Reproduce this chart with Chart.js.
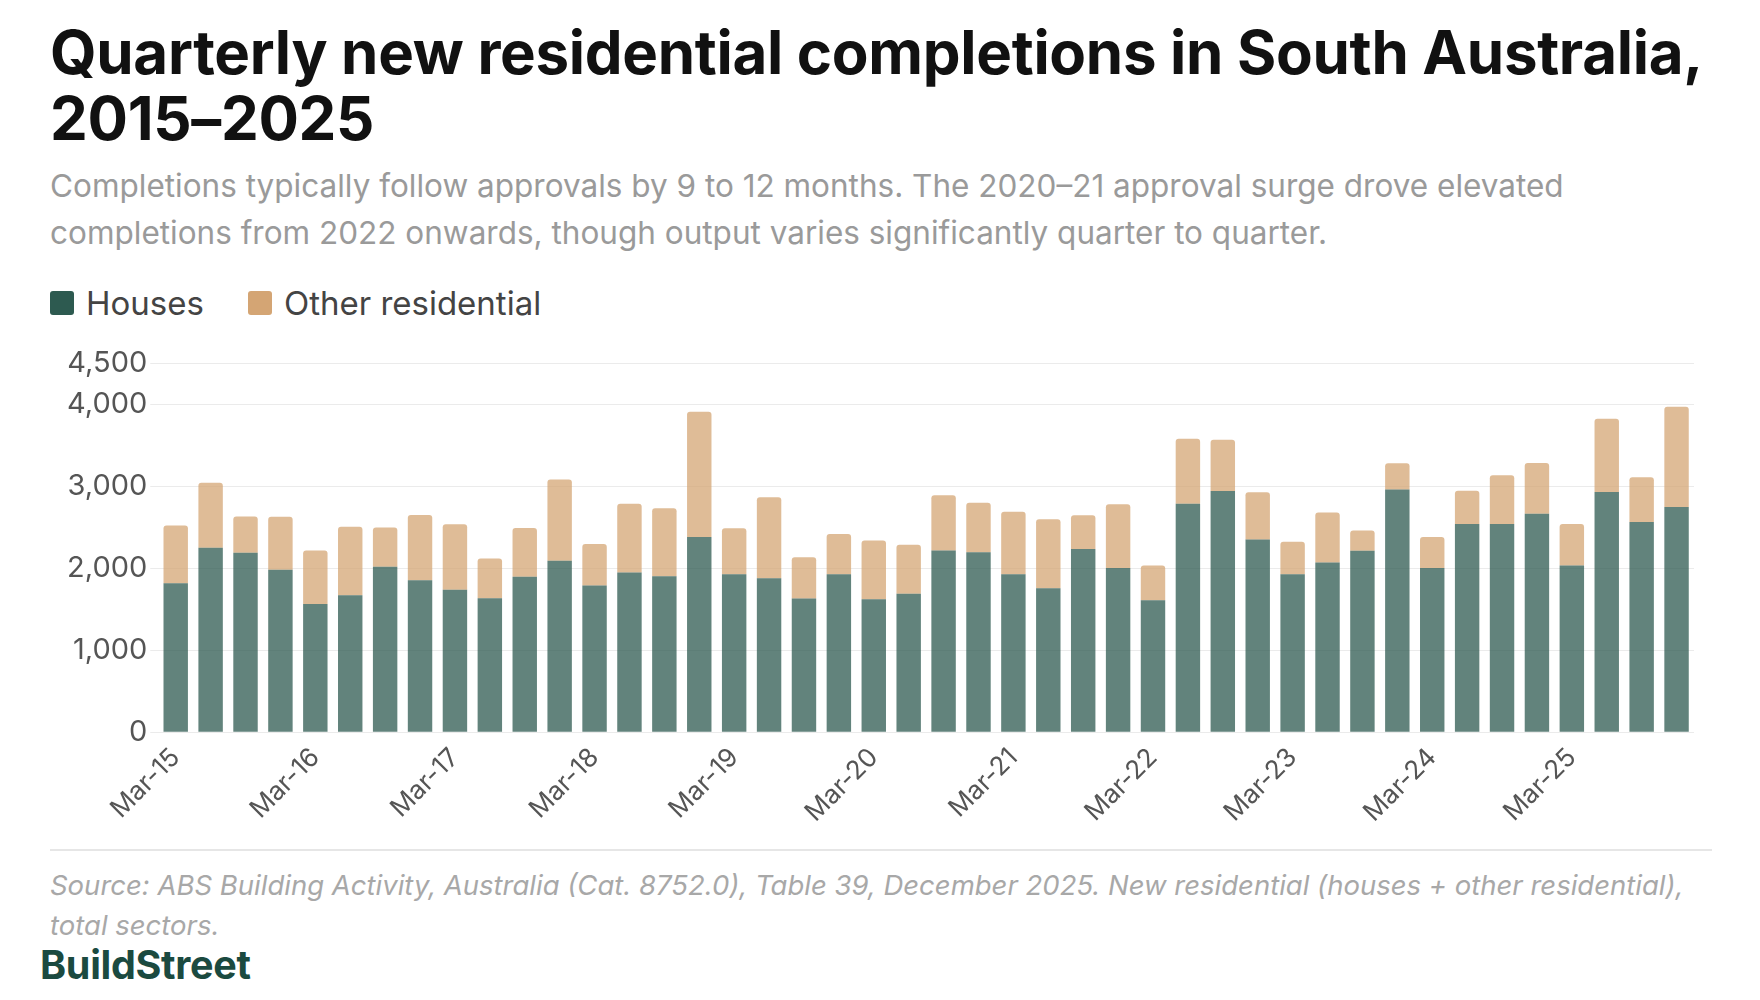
<!DOCTYPE html>
<html lang="en">
  <head>
    <meta charset="UTF-8" />
    <title>Quarterly new residential completions in South Australia</title>
    <script src="https://cdn.jsdelivr.net/npm/chart.js"></script>
    <style>
      body {
        margin: 0;
        width: 1760px;
        height: 1000px;
        background: #fff;
        font-family: Inter, "Noto Sans", sans-serif;
        position: relative;
        overflow: hidden;
      }
      h1 {
        position: absolute;
        left: 50px;
        top: 19px;
        margin: 0;
        font-size: 60px;
        line-height: 66px;
        font-weight: 700;
        letter-spacing: -0.3px;
        color: #111;
      }
      .subtitle {
        position: absolute;
        left: 50px;
        top: 162px;
        margin: 0;
        font-size: 31.5px;
        line-height: 47px;
        color: #9a9a9a;
      }
      .legend {
        position: absolute;
        left: 50px;
        top: 283px;
        display: flex;
        align-items: center;
        font-size: 33px;
        color: #444;
      }
      .legend span.sw {
        display: inline-block;
        width: 24px;
        height: 24px;
        border-radius: 3px;
        margin-right: 12px;
      }
      .legend .item {
        display: flex;
        align-items: center;
        margin-right: 44px;
      }
      .chart-box {
        position: absolute;
        left: 40px;
        top: 343px;
        width: 1680px;
        height: 487px;
      }
      .rule {
        position: absolute;
        left: 50px;
        top: 849px;
        width: 1662px;
        height: 2px;
        background: #e6e6e6;
      }
      .source {
        position: absolute;
        left: 50px;
        top: 865px;
        margin: 0;
        font-size: 27.5px;
        line-height: 40px;
        font-style: italic;
        color: #a8a8a8;
      }
      .brand {
        position: absolute;
        left: 40px;
        top: 941px;
        font-size: 39.5px;
        font-weight: 700;
        color: #1b4a40;
        letter-spacing: -0.3px;
      }
    </style>
  </head>
  <body>
    <h1>Quarterly new residential completions in South Australia,<br />2015–2025</h1>
    <p class="subtitle">
      Completions typically follow approvals by 9 to 12 months. The 2020–21 approval surge drove elevated<br />
      completions from 2022 onwards, though output varies significantly quarter to quarter.
    </p>
    <div class="legend">
      <div class="item"><span class="sw" style="background:#2d5a50"></span>Houses</div>
      <div class="item"><span class="sw" style="background:#d4a574"></span>Other residential</div>
    </div>

    <div class="chart-box">
      <canvas id="completions"></canvas>
    </div>

    <div class="rule"></div>
    <p class="source">
      Source: ABS Building Activity, Australia (Cat. 8752.0), Table 39, December 2025. New residential (houses + other residential),<br />
      total sectors.
    </p>
    <div class="brand">BuildStreet</div>

    <script>
      const quarters = [
        "Mar-15", "Jun-15", "Sep-15", "Dec-15",
        "Mar-16", "Jun-16", "Sep-16", "Dec-16",
        "Mar-17", "Jun-17", "Sep-17", "Dec-17",
        "Mar-18", "Jun-18", "Sep-18", "Dec-18",
        "Mar-19", "Jun-19", "Sep-19", "Dec-19",
        "Mar-20", "Jun-20", "Sep-20", "Dec-20",
        "Mar-21", "Jun-21", "Sep-21", "Dec-21",
        "Mar-22", "Jun-22", "Sep-22", "Dec-22",
        "Mar-23", "Jun-23", "Sep-23", "Dec-23",
        "Mar-24", "Jun-24", "Sep-24", "Dec-24",
        "Mar-25", "Jun-25", "Sep-25", "Dec-25",
      ];

      const houses = [
        1818, 2250, 2189, 1981, 1565, 1671, 2018, 1855, 1737, 1635, 1896,
        2091, 1790, 1949, 1904, 2381, 1928, 1879, 1631, 1928, 1623, 1688,
        2218, 2197, 1928, 1757, 2234, 2002, 1610, 2788, 2943, 2352, 1928,
        2071, 2214, 2960, 2002, 2540, 2540, 2666, 2034, 2931, 2564, 2748,
      ];

      const otherResidential = [
        705, 795, 444, 648, 653, 836, 481, 795, 799, 485, 595,
        991, 505, 839, 827, 1528, 559, 987, 505, 489, 717, 599,
        672, 604, 763, 840, 412, 778, 424, 791, 624, 575, 396,
        611, 248, 322, 379, 407, 595, 620, 506, 893, 546, 1223,
      ];

      const yTicks = [0, 1000, 2000, 3000, 4000, 4500];

      const ctx = document.getElementById("completions").getContext("2d");

      const chart = new Chart(ctx, {
        type: "bar",
        data: {
          labels: quarters,
          datasets: [
            {
              label: "Houses",
              data: houses,
              backgroundColor: "rgba(45, 90, 80, 0.75)",
              borderWidth: 0,
              barPercentage: 0.7,
              categoryPercentage: 1,
            },
            {
              label: "Other residential",
              data: otherResidential,
              backgroundColor: "rgba(212, 165, 116, 0.75)",
              borderWidth: 0,
              borderRadius: { topLeft: 3, topRight: 3 },
              borderSkipped: "bottom",
              barPercentage: 0.7,
              categoryPercentage: 1,
            },
          ],
        },
        options: {
          responsive: true,
          maintainAspectRatio: false,
          animation: false,
          layout: { padding: { top: 4, right: 26, left: 24, bottom: 0 } },
          plugins: {
            legend: { display: false },
            tooltip: { enabled: false },
          },
          scales: {
            x: {
              stacked: true,
              grid: { display: false },
              border: { display: false },
              ticks: {
                autoSkip: false,
                minRotation: 45,
                maxRotation: 45,
                padding: 2,
                color: "#555",
                font: { family: "Inter", size: 26 },
                callback: (value, i) => (i % 4 === 0 ? quarters[i] : ""),
              },
            },
            y: {
              stacked: true,
              min: 0,
              max: 4500,
              afterBuildTicks: (axis) => {
                axis.ticks = yTicks.map((v) => ({ value: v }));
              },
              grid: { color: "#ebebeb", tickLength: 8, lineWidth: 1 },
              border: { display: false },
              ticks: {
                padding: 3,
                color: "#555",
                font: { family: "Inter", size: 29 },
                callback: (v) => v.toLocaleString("en-US"),
              },
            },
          },
        },
      });
    </script>
  </body>
</html>
